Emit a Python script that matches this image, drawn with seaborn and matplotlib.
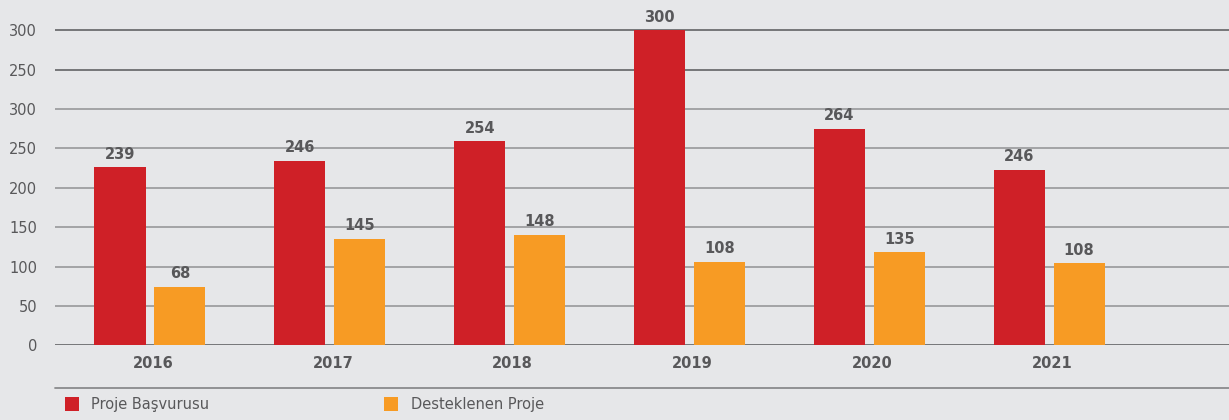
# Proje Başvurusu vs Desteklenen Proje, grouped bar chart by year

import pandas as pd
import matplotlib.pyplot as plt
import matplotlib.transforms as mtransforms
import seaborn as sns
from matplotlib.lines import Line2D
from matplotlib.patches import Patch

# Data
years = ['2016', '2017', '2018', '2019', '2020', '2021']
series_names = ['Proje Başvurusu', 'Desteklenen Proje']
basvuru_heights = [226, 234, 259, 400, 275, 223]
destek_heights = [74, 135, 140, 106, 118, 104]
basvuru_labels = ['239', '246', '254', '300', '264', '246']
destek_labels = ['68', '145', '148', '108', '135', '108']
ytick_values = [0, 50, 100, 150, 200, 250, 300, 350, 400]
ytick_labels = ['0', '50', '100', '150', '200', '250', '300', '250', '300']

colors = ['#cf2027', '#f79b24']
bg = '#e6e7e9'
text_color = '#58585a'

df = pd.DataFrame({
    'Yıl': years * 2,
    'Seri': [series_names[0]] * len(years) + [series_names[1]] * len(years),
    'Değer': basvuru_heights + destek_heights,
})

sns.set_style('white')
plt.rcParams['font.family'] = ['DejaVu Sans']

fig = plt.figure(figsize=(12.29, 4.2), dpi=100, facecolor=bg)
ax = fig.add_axes([55 / 1229, 1 - 345.3 / 420, 1 - 55 / 1229, 345.3 / 420])
ax.set_facecolor(bg)

sns.barplot(data=df, x='Yıl', y='Değer', hue='Seri', palette=colors,
            width=0.667, gap=0.148, saturation=1, ax=ax, legend=False,
            edgecolor='none', linewidth=0, zorder=3)

ax.set_xlim(-0.528, 6.0)
ax.set_ylim(0, 400 + 30.3 / 0.7875)
ax.set_yticks(ytick_values)
ax.set_yticklabels(ytick_labels)
ax.set_xlabel('')
ax.set_ylabel('')

# gridlines
for v in ytick_values:
    dark = v in (0, 350, 400)
    ax.axhline(v, color='#6d6e70' if dark else '#9d9ea0', lw=1.3, zorder=1)

for s in ax.spines.values():
    s.set_visible(False)

ax.tick_params(axis='y', length=0, pad=13, labelsize=10.5, labelcolor=text_color)
ax.tick_params(axis='x', length=0, pad=8, labelsize=10.5, labelcolor=text_color)
shift = mtransforms.ScaledTranslation(3 / 100, 0, fig.dpi_scale_trans)
for lbl in ax.get_xticklabels():
    lbl.set_fontweight('bold')
    lbl.set_transform(lbl.get_transform() + shift)

# value labels
for cont, labels in zip(ax.containers, [basvuru_labels, destek_labels]):
    ax.bar_label(cont, labels=labels, padding=4, fontsize=10.5, fontweight='bold',
                 color=text_color, clip_on=False)

# separator line above legend
fig.add_artist(Line2D([55 / 1229, 1], [1 - 387.7 / 420] * 2, color='#8a8b8d', lw=1.3))

handles = [Patch(facecolor=c, edgecolor='none') for c in colors]
fig.legend(handles, series_names, loc='center left',
           bbox_to_anchor=(65 / 1229, 1 - 404 / 420), ncol=2, frameon=False,
           fontsize=10.5, labelcolor=text_color, handlelength=0.95, handleheight=1.1,
           handletextpad=0.85, columnspacing=12.0, borderpad=0, borderaxespad=0)

plt.savefig('out.png', dpi=100, facecolor=bg)
